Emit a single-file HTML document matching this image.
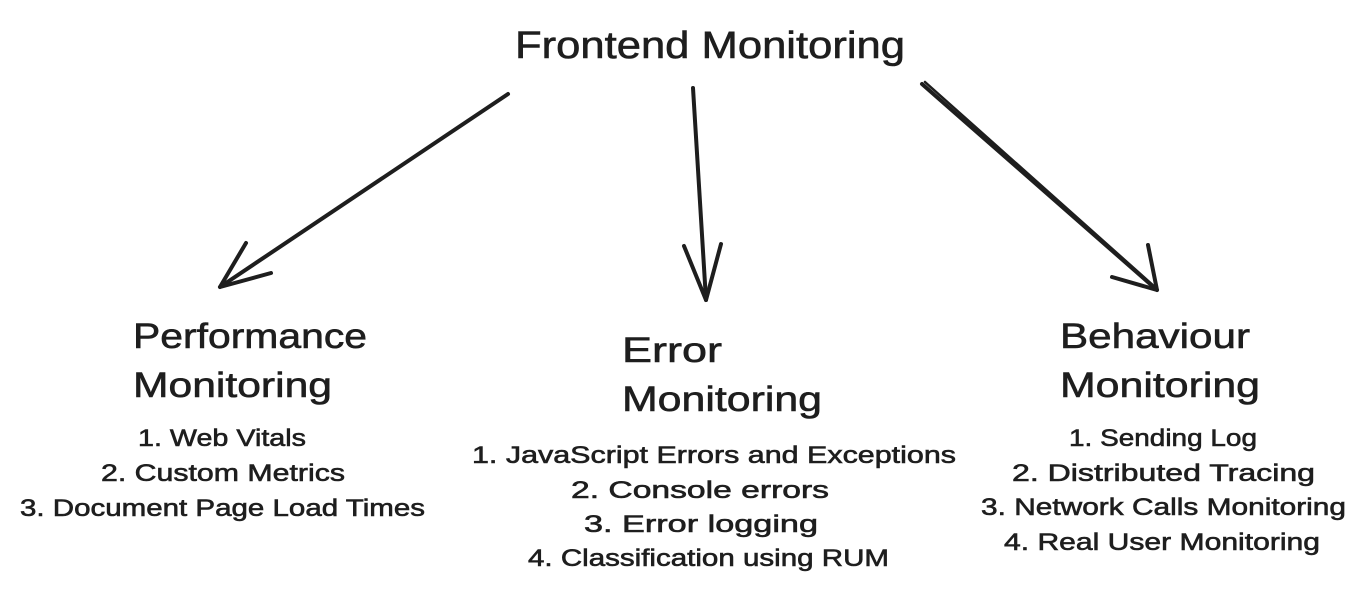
<!DOCTYPE html>
<html><head><meta charset="utf-8"><style>
html,body{margin:0;padding:0;background:#fff;}
svg{display:block;}
text{font-family:"Liberation Sans",sans-serif;fill:#1e1e1e;stroke:#1e1e1e;stroke-width:0.6;}
</style></head><body>
<svg width="1367" height="596" viewBox="0 0 1367 596" xmlns="http://www.w3.org/2000/svg">
<g stroke="#1e1e1e" stroke-width="4" fill="none" stroke-linecap="round" stroke-linejoin="round">
<path d="M508 94 L220 287"/>
<path d="M246 243 L220 287 L271 273"/>
<path d="M693 88 L706 300"/>
<path d="M684 246 L706 300 L721 244"/>
<path d="M922 84 L1157 290"/>
<path d="M925 82 L1155 287" stroke-width="2.5"/>
<path d="M1112 277 L1157 290 L1148 245"/>
</g>
<text x="515" y="58" font-size="38" textLength="390" lengthAdjust="spacingAndGlyphs">Frontend Monitoring</text>

<text x="133" y="348" font-size="35" textLength="234" lengthAdjust="spacingAndGlyphs">Performance</text>
<text x="133" y="397" font-size="35" textLength="199" lengthAdjust="spacingAndGlyphs">Monitoring</text>
<text x="622" y="362" font-size="35" textLength="100" lengthAdjust="spacingAndGlyphs">Error</text>
<text x="622" y="411" font-size="35" textLength="200" lengthAdjust="spacingAndGlyphs">Monitoring</text>
<text x="1060" y="348" font-size="35" textLength="190" lengthAdjust="spacingAndGlyphs">Behaviour</text>
<text x="1060" y="397" font-size="35" textLength="200" lengthAdjust="spacingAndGlyphs">Monitoring</text>

<g font-size="24">
<text x="138" y="446" textLength="168" lengthAdjust="spacingAndGlyphs">1. Web Vitals</text>
<text x="101" y="481" textLength="244" lengthAdjust="spacingAndGlyphs">2. Custom Metrics</text>
<text x="20" y="516" textLength="405" lengthAdjust="spacingAndGlyphs">3. Document Page Load Times</text>

<text x="472" y="463" textLength="484" lengthAdjust="spacingAndGlyphs">1. JavaScript Errors and Exceptions</text>
<text x="571" y="498" textLength="258" lengthAdjust="spacingAndGlyphs">2. Console errors</text>
<text x="584" y="532" textLength="234" lengthAdjust="spacingAndGlyphs">3. Error logging</text>
<text x="528" y="566" textLength="361" lengthAdjust="spacingAndGlyphs">4. Classification using RUM</text>

<text x="1069" y="446" textLength="188" lengthAdjust="spacingAndGlyphs">1. Sending Log</text>
<text x="1012" y="481" textLength="303" lengthAdjust="spacingAndGlyphs">2. Distributed Tracing</text>
<text x="981" y="515" textLength="365" lengthAdjust="spacingAndGlyphs">3. Network Calls Monitoring</text>
<text x="1004" y="550" textLength="316" lengthAdjust="spacingAndGlyphs">4. Real User Monitoring</text>
</g>
</svg>
</body></html>
